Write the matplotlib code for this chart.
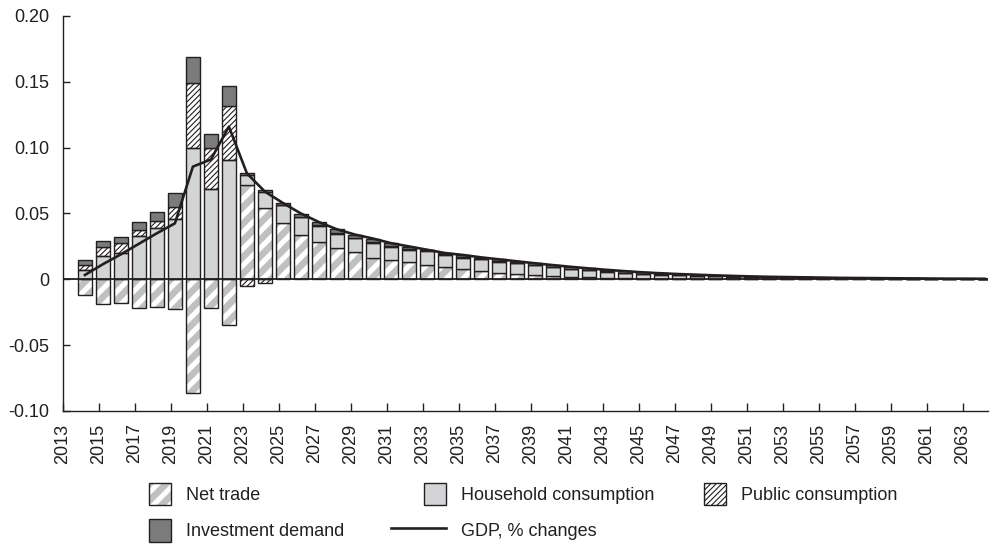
import matplotlib
matplotlib.use("Agg")
import matplotlib.pyplot as plt
from matplotlib.patches import Rectangle
from matplotlib.lines import Line2D
from matplotlib.legend_handler import HandlerPatch, HandlerTuple
import numpy as np

plt.rcParams['font.family'] = ['Liberation Sans', 'DejaVu Sans']

years = list(range(2014, 2065))

net_trade = [-0.012, -0.0187, -0.0178, -0.022, -0.0208, -0.0226, -0.0862, -0.022, -0.0347,
             0.0716, 0.054, 0.0426, 0.0337, 0.0286, 0.0236, 0.021, 0.0165, 0.0147, 0.0134,
             0.0109, 0.0091, 0.0076, 0.0063, 0.0046, 0.004, 0.0032, 0.0026, 0.002, 0.0015,
             0.0011, 0.0008, 0.0005, 0.0003, 0.0002, 0.0001,
             0, 0, 0, 0, 0, 0, 0, 0, 0, 0, 0, 0, 0, 0, 0, 0]

household = [0.007, 0.018, 0.0198, 0.0329, 0.0392, 0.0458, 0.100, 0.0686, 0.0906,
             0.0074, 0.0122, 0.0139, 0.0134, 0.0122, 0.0108, 0.0102, 0.0114, 0.0101, 0.0089,
             0.0106, 0.0094, 0.0089, 0.0089, 0.0088, 0.0082, 0.0076, 0.0068, 0.006, 0.0053,
             0.0047, 0.0041, 0.0036, 0.0032, 0.0028, 0.0025, 0.0022, 0.0019, 0.0016, 0.0014,
             0.0012, 0.0011, 0.0009, 0.0008, 0.0007, 0.0006, 0.0006, 0.0005, 0.0004, 0.0004,
             0.0003, 0.0003]

public = [0.004, 0.0063, 0.0076, 0.0046, 0.0051, 0.0094, 0.049, 0.0314, 0.0414,
          -0.0051, -0.0026, 0.0003,
          0.0005, 0.0005, 0.0005, 0.0005, 0.0005, 0.0005, 0.0005, 0.0005, 0.0005, 0.0005,
          0.0005, 0.0005, 0.0005,
          0.0002, 0.0002, 0.0002, 0.0002, 0.0002, 0.0002, 0.0002, 0.0002, 0.0002, 0.0002,
          0.0002, 0.0002,
          0.0001, 0.0001, 0.0001, 0.0001, 0.0001, 0.0001, 0.0001, 0.0001, 0.0001, 0.0001,
          0.0001, 0.0001, 0.0001, 0.0001]

investment = [0.0037, 0.005, 0.005, 0.0063, 0.0071, 0.0101, 0.0197, 0.0104, 0.015,
              0.002, 0.0018, 0.0013, 0.002, 0.002, 0.0031, 0.002, 0.002, 0.0021, 0.002,
              0.0003, 0.0008, 0.0015, 0.0008, 0.0013, 0.0007, 0.0012, 0.0012, 0.0013, 0.0013,
              0.0012, 0.0011, 0.001, 0.0009, 0.0008, 0.0007, 0.0006, 0.0005, 0.0005, 0.0004,
              0.0004, 0.0003, 0.0003, 0.0002, 0.0002, 0.0002, 0.0001, 0.0001, 0.0001, 0.0,
              0.0001, 0.0]

gdp = [0.0033, 0.0115, 0.019, 0.027, 0.035, 0.0425, 0.0856, 0.091, 0.116, 0.0805, 0.0666,
       0.058, 0.050, 0.0435, 0.038, 0.034, 0.031, 0.0275, 0.025, 0.0225, 0.020, 0.0185,
       0.0167, 0.0152, 0.0137, 0.0122, 0.0108, 0.0095, 0.0083, 0.0072, 0.0062, 0.0053,
       0.0046, 0.004, 0.0035, 0.003, 0.0026, 0.0022, 0.0019, 0.0017, 0.0015, 0.0013,
       0.0011, 0.001, 0.0009, 0.0008, 0.0007, 0.0006, 0.0005, 0.0005, 0.0004]

ink = '#231f20'
light = '#d3d4d6'
dark = '#7b7b7d'
stripe = '#bfc0c2'

NT_HATCH, NT_LW = '//', 4.8
PUB_HATCH, PUB_LW = '//////', 0.8

x = np.array(years) + 0.22
w = 0.76

fig = plt.figure(figsize=(9.9, 5.44), dpi=100)
ax = fig.add_axes([0.0636, 0.2445, 0.9344, 0.7261])

pos = np.zeros(len(years))
neg = np.zeros(len(years))


def stack(vals):
    vals = np.array(vals)
    bottom = np.where(vals >= 0, pos, neg)
    pos[:] += np.where(vals >= 0, vals, 0)
    neg[:] += np.where(vals < 0, vals, 0)
    return vals, bottom


def hatched(vals, bottom, hatch, hcolor, hlw, face='white'):
    plt.rcParams['hatch.linewidth'] = hlw
    bars = ax.bar(x, vals, w, bottom=bottom, color=face, edgecolor=hcolor,
                  hatch=hatch, linewidth=0, zorder=2)
    for b in bars:
        if hasattr(b, 'set_hatch_linewidth'):
            b.set_hatch_linewidth(hlw)
    ax.bar(x, vals, w, bottom=bottom, fill=False, edgecolor=ink, linewidth=1.0, zorder=3)


v, b = stack(net_trade)
hatched(v, b, NT_HATCH, stripe, NT_LW)

v, b = stack(household)
ax.bar(x, v, w, bottom=b, color=light, edgecolor=ink, linewidth=1.0, zorder=3)

v, b = stack(public)
hatched(v, b, PUB_HATCH, ink, PUB_LW)

v, b = stack(investment)
ax.bar(x, v, w, bottom=b, color=dark, edgecolor=ink, linewidth=1.0, zorder=3)

ax.axhline(0, color=ink, linewidth=1.3, zorder=4)
ax.plot(x, gdp, color=ink, linewidth=1.9, solid_joinstyle='round', zorder=5)

ax.set_xlim(2013, 2064.4)
ax.set_ylim(-0.10, 0.20)
ax.set_xticks(range(2013, 2064, 2))
ax.set_xticklabels([str(y) for y in range(2013, 2064, 2)], rotation=90)
ax.set_yticks([-0.10, -0.05, 0, 0.05, 0.10, 0.15, 0.20])
ax.set_yticklabels(['-0.10', '-0.05', '0', '0.05', '0.10', '0.15', '0.20'])
ax.tick_params(axis='x', direction='in', length=6, width=1, color=ink,
               labelsize=13, labelcolor=ink, pad=9)
ax.tick_params(axis='y', direction='in', length=5, width=1, color=ink,
               labelsize=13, labelcolor=ink, pad=10)
for s in ['top', 'right']:
    ax.spines[s].set_visible(False)
for s in ['left', 'bottom']:
    ax.spines[s].set_color(ink)
    ax.spines[s].set_linewidth(1.0)


# legend squares sit at the right end of each handle box
def square(legend, orig_handle, xdescent, ydescent, width, height, fontsize):
    r = Rectangle((width - height - xdescent, -ydescent), height, height)
    if hasattr(orig_handle, 'get_hatch_linewidth'):
        r.set_hatch_linewidth(orig_handle.get_hatch_linewidth())
    return r


sq = HandlerPatch(patch_func=square)

plt.rcParams['hatch.linewidth'] = NT_LW
nt_fill = Rectangle((0, 0), 1, 1, facecolor='white', edgecolor=stripe, hatch=NT_HATCH, linewidth=0)
nt_edge = Rectangle((0, 0), 1, 1, fill=False, edgecolor=ink, linewidth=1.0)
hh_h = Rectangle((0, 0), 1, 1, facecolor=light, edgecolor=ink, linewidth=1.0)
inv_h = Rectangle((0, 0), 1, 1, facecolor=dark, edgecolor=ink, linewidth=1.0)
gdp_h = Line2D([], [], color=ink, linewidth=1.9)

hmap = {Rectangle: sq, tuple: HandlerTuple(ndivide=1, pad=0)}
common = dict(frameon=False, fontsize=13, handlelength=3.0, handleheight=1.5,
              handletextpad=0.83, borderpad=0, labelspacing=0.8, handler_map=hmap,
              labelcolor=ink)

fig.legend([(nt_fill, nt_edge), inv_h, hh_h, gdp_h],
           ['Net trade', 'Investment demand', 'Household consumption', 'GDP, % changes'],
           ncol=2, columnspacing=2.6, loc='upper left',
           bbox_to_anchor=(108 / 990, 1 - 474 / 544), **common)

plt.rcParams['hatch.linewidth'] = PUB_LW
pub_h = Rectangle((0, 0), 1, 1, facecolor='white', edgecolor=ink, hatch=PUB_HATCH, linewidth=1.0)
fig.legend([pub_h], ['Public consumption'], loc='upper left',
           bbox_to_anchor=(663 / 990, 1 - 474 / 544), **common)

fig.savefig('out.png', dpi=100)
